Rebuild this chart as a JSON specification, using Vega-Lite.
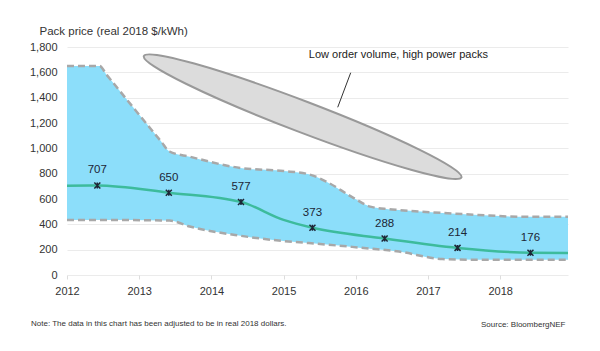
{
  "$schema": "https://vega.github.io/schema/vega-lite/v6.json",
  "width": 501,
  "height": 228,
  "autosize": {"type": "none"},
  "padding": {"left": 67, "top": 47, "right": 32, "bottom": 76},
  "background": "white",
  "config": {
    "font": "Liberation Sans",
    "view": {"stroke": null},
    "axis": {"labelFont": "Liberation Sans", "titleFont": "Liberation Sans"}
  },
  "title": {
    "text": "Note: The data in this chart has been adjusted to be in real 2018 dollars.",
    "orient": "bottom",
    "anchor": "start",
    "frame": "group",
    "dx": -36,
    "offset": 0,
    "dy": -8,
    "fontSize": 8,
    "fontWeight": "normal",
    "color": "#333333",
    "font": "Liberation Sans"
  },
  "datasets": {
    "edges": [
      {"x": 2012.0, "y": 1650, "edge": "hi"},
      {"x": 2012.45, "y": 1650, "edge": "hi"},
      {"x": 2012.55, "y": 1580, "edge": "hi"},
      {"x": 2013.3, "y": 1057, "edge": "hi"},
      {"x": 2013.42, "y": 975, "edge": "hi"},
      {"x": 2013.7, "y": 934, "edge": "hi"},
      {"x": 2014.4, "y": 845, "edge": "hi"},
      {"x": 2015.0, "y": 821, "edge": "hi"},
      {"x": 2015.35, "y": 795, "edge": "hi"},
      {"x": 2015.6, "y": 735, "edge": "hi"},
      {"x": 2015.95, "y": 615, "edge": "hi"},
      {"x": 2016.2, "y": 540, "edge": "hi"},
      {"x": 2016.45, "y": 520, "edge": "hi"},
      {"x": 2016.6, "y": 513, "edge": "hi"},
      {"x": 2017.2, "y": 490, "edge": "hi"},
      {"x": 2017.7, "y": 474, "edge": "hi"},
      {"x": 2018.3, "y": 460, "edge": "hi"},
      {"x": 2018.94, "y": 460, "edge": "hi"},
      {"x": 2012.0, "y": 435, "edge": "lo"},
      {"x": 2012.45, "y": 434, "edge": "lo"},
      {"x": 2012.55, "y": 434, "edge": "lo"},
      {"x": 2013.3, "y": 431, "edge": "lo"},
      {"x": 2013.42, "y": 430, "edge": "lo"},
      {"x": 2013.7, "y": 383, "edge": "lo"},
      {"x": 2014.4, "y": 310, "edge": "lo"},
      {"x": 2015.0, "y": 268, "edge": "lo"},
      {"x": 2015.35, "y": 252, "edge": "lo"},
      {"x": 2015.6, "y": 240, "edge": "lo"},
      {"x": 2015.95, "y": 222, "edge": "lo"},
      {"x": 2016.2, "y": 208, "edge": "lo"},
      {"x": 2016.45, "y": 196, "edge": "lo"},
      {"x": 2016.6, "y": 185, "edge": "lo"},
      {"x": 2017.2, "y": 126, "edge": "lo"},
      {"x": 2017.7, "y": 120, "edge": "lo"},
      {"x": 2018.3, "y": 120, "edge": "lo"},
      {"x": 2018.94, "y": 120, "edge": "lo"}
    ],
    "mid": [
      {"x": 2012.0, "y": 705},
      {"x": 2012.42, "y": 707},
      {"x": 2013.41, "y": 650},
      {"x": 2014.41, "y": 577},
      {"x": 2015.0, "y": 435},
      {"x": 2015.4, "y": 373},
      {"x": 2016.4, "y": 288},
      {"x": 2017.41, "y": 214},
      {"x": 2018.42, "y": 176},
      {"x": 2018.94, "y": 174}
    ],
    "pts": [
      {"x": 2012.42, "y": 707, "label": "707"},
      {"x": 2013.41, "y": 650, "label": "650"},
      {"x": 2014.41, "y": 577, "label": "577"},
      {"x": 2015.4, "y": 373, "label": "373"},
      {"x": 2016.4, "y": 288, "label": "288"},
      {"x": 2017.41, "y": 214, "label": "214"},
      {"x": 2018.42, "y": 176, "label": "176"}
    ],
    "ellipse": [{"x": 2015.264, "y": 1250}],
    "note": [{"x": 2015.35, "y": 1736, "text": "Low order volume, high power packs"}],
    "leader": [{"x": 2015.93, "y": 1597, "x2": 2015.75, "y2": 1324}]
  },
  "encoding": {
    "x": {
      "field": "x",
      "type": "quantitative",
      "scale": {"domain": [2012, 2018.94], "nice": false, "zero": false},
      "axis": {
        "values": [2012, 2013, 2014, 2015, 2016, 2017, 2018],
        "format": "d",
        "labelFlush": false,
        "grid": false,
        "domain": false,
        "ticks": true,
        "tickSize": 4,
        "tickColor": "#dddddd",
        "labelPadding": 6,
        "labelFontSize": 11,
        "labelColor": "#333333",
        "title": "Source: BloombergNEF",
        "titleX": 498,
        "titleY": 49,
        "titleAlign": "right",
        "titleBaseline": "middle",
        "titleFontSize": 8,
        "titleFontWeight": "normal",
        "titleColor": "#333333"
      }
    },
    "y": {
      "field": "y",
      "type": "quantitative",
      "scale": {"domain": [0, 1800], "nice": false},
      "axis": {
        "values": [0, 200, 400, 600, 800, 1000, 1200, 1400, 1600, 1800],
        "format": ",d",
        "labelFlush": false,
        "grid": true,
        "gridColor": "#ebebeb",
        "domain": false,
        "ticks": false,
        "labelPadding": 10,
        "labelFontSize": 11,
        "labelColor": "#333333",
        "title": "Pack price (real 2018 $/kWh)",
        "titleAngle": 0,
        "titleX": -28,
        "titleY": -16,
        "titleAlign": "left",
        "titleBaseline": "middle",
        "titleFontSize": 11.5,
        "titleFontWeight": "normal",
        "titleColor": "#333333"
      }
    }
  },
  "layer": [
    {
      "data": {"name": "edges"},
      "transform": [{"pivot": "edge", "value": "y", "groupby": ["x"]}],
      "mark": {"type": "area", "color": "#8cdefa", "opacity": 1, "interpolate": "monotone"},
      "encoding": {
        "y": {"field": "hi", "type": "quantitative", "title": "Pack price (real 2018 $/kWh)"},
        "y2": {"field": "lo"}
      }
    },
    {
      "data": {"name": "edges"},
      "mark": {"type": "line", "color": "#a8a8a8", "strokeWidth": 2.5, "strokeDash": [7, 4], "interpolate": "monotone"},
      "encoding": {"detail": {"field": "edge"}}
    },
    {
      "data": {"name": "mid"},
      "mark": {"type": "line", "color": "#3dbb9c", "strokeWidth": 2.5, "interpolate": "monotone"},
      "encoding": {}
    },
    {
      "data": {"name": "pts"},
      "mark": {"type": "point", "shape": "M-1,-1L1,1M-1,1L1,-1M0,-1L0,1", "filled": false, "stroke": "#1c2636", "strokeWidth": 1.5, "size": 36, "opacity": 1},
      "encoding": {}
    },
    {
      "data": {"name": "pts"},
      "mark": {"type": "text", "dy": -15, "fontSize": 11.5, "color": "#1c2636", "baseline": "middle"},
      "encoding": {"text": {"field": "label"}}
    },
    {
      "data": {"name": "ellipse"},
      "mark": {
        "type": "point",
        "shape": "M-1,0C-1,-0.0502,-0.552,-0.091,0,-0.091C0.552,-0.091,1,-0.0502,1,0C1,0.0502,0.552,0.091,0,0.091C-0.552,0.091,-1,0.0502,-1,0Z",
        "size": 115600,
        "angle": 20.9,
        "filled": true,
        "fill": "#dcdcdc",
        "stroke": "#999999",
        "strokeWidth": 2,
        "opacity": 1
      },
      "encoding": {}
    },
    {
      "data": {"name": "leader"},
      "mark": {"type": "rule", "color": "#333333", "strokeWidth": 1},
      "encoding": {"x2": {"field": "x2"}, "y2": {"field": "y2"}}
    },
    {
      "data": {"name": "note"},
      "mark": {"type": "text", "align": "left", "baseline": "middle", "fontSize": 11, "color": "#222222"},
      "encoding": {"text": {"field": "text"}}
    }
  ]
}
